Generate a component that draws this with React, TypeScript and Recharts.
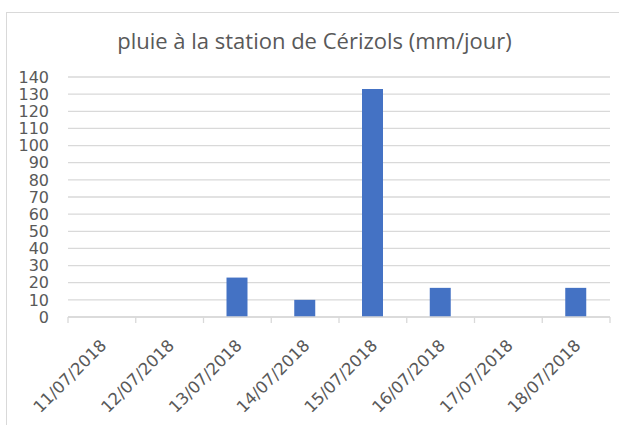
import { BarChart, Bar, XAxis, YAxis, CartesianGrid } from "recharts";

const dates = [
  "11/07/2018",
  "12/07/2018",
  "13/07/2018",
  "14/07/2018",
  "15/07/2018",
  "16/07/2018",
  "17/07/2018",
  "18/07/2018",
];
const pluie = [0, 0, 23, 10, 133, 17, 0, 17];
const yTicks = [0, 10, 20, 30, 40, 50, 60, 70, 80, 90, 100, 110, 120, 130, 140];

const TEXT = "#595959";
const LINE = "#d9d9d9";
const TITLE_FONT = "'Open Sans', sans-serif";
const TICK_FONT = "'DejaVu Sans', sans-serif";
const TICK_GAP = 21;

const chartData = dates.map((d, i) => ({ date: d, pluie: pluie[i] }));

// category tick: rotated label plus a tick mark on the left band boundary (and right for the last one)
function DateTick(props: any) {
  const { x, y, payload, index, visibleTicksCount } = props;
  const half = payload?.offset ?? 34;
  const axisY = y - TICK_GAP;
  const last = index === visibleTicksCount - 1;
  const tx = x - 3;
  return (
    <g>
      <line x1={x - half} x2={x - half} y1={axisY} y2={axisY + 6} stroke={LINE} strokeWidth={1.3} />
      {last && <line x1={x + half} x2={x + half} y1={axisY} y2={axisY + 6} stroke={LINE} strokeWidth={1.3} />}
      <text
        x={tx}
        y={y}
        dy="0.73em"
        textAnchor="end"
        transform={`rotate(-45, ${tx}, ${y})`}
        fill={TEXT}
        fontSize={16.5}
        fontFamily={TICK_FONT}
      >
        {payload.value}
      </text>
    </g>
  );
}

export default function App() {
  return (
    <div style={{ position: "absolute", left: 0, top: 0, width: 619, height: 425, background: "#fff", overflow: "hidden" }}>
      <div
        style={{
          position: "absolute",
          left: 6,
          top: 12,
          width: 640,
          height: 440,
          borderTop: `1.5px solid ${LINE}`,
          borderLeft: `1.5px solid ${LINE}`,
        }}
      />
      <div
        style={{
          position: "absolute",
          left: 0,
          top: 27,
          width: 629,
          textAlign: "center",
          fontFamily: TITLE_FONT,
          fontSize: 22,
          color: TEXT,
          lineHeight: "26px",
          whiteSpace: "nowrap",
        }}
      >
        pluie à la station de Cérizols (mm/jour)
      </div>
      <div style={{ position: "absolute", left: 0, top: 0 }}>
        <BarChart width={619} height={425} data={chartData} margin={{ top: 77, right: 9, bottom: 0, left: 8 }}>
          <CartesianGrid vertical={false} stroke={LINE} strokeWidth={1.3} />
          <XAxis
            dataKey="date"
            height={108}
            interval={0}
            axisLine={{ stroke: LINE, strokeWidth: 1.3 }}
            tickLine={false}
            tickSize={6}
            tickMargin={TICK_GAP - 6}
            tick={<DateTick />}
          />
          <YAxis
            width={60}
            domain={[0, 140]}
            ticks={yTicks}
            interval={0}
            axisLine={false}
            tickLine={false}
            tickSize={0}
            tickMargin={19}
            tick={{ fill: TEXT, fontSize: 16, fontFamily: TICK_FONT }}
          />
          <Bar dataKey="pluie" fill="#4472C4" barSize={21} isAnimationActive={false} />
        </BarChart>
      </div>
    </div>
  );
}
